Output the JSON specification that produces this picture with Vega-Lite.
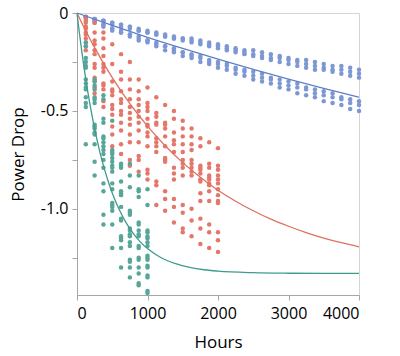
{
  "$schema": "https://vega.github.io/schema/vega-lite/v6.json",
  "width": 282,
  "height": 282,
  "autosize": "none",
  "padding": {"left": 77, "top": 13, "right": 41, "bottom": 61},
  "background": "white",
  "config": {
    "font": "Open Sans",
    "view": {"stroke": "#d4d4d4", "strokeWidth": 1},
    "axis": {"grid": false, "domainColor": "#a6a6a6", "tickColor": "#a6a6a6", "labelColor": "#000000", "titleColor": "#000000", "labelFontSize": 16, "titleFontSize": 17, "titleFontWeight": "normal", "tickSize": 5}
  },
  "datasets": {
    "pts": [
      {"h":125,"p":-0.02,"s":"B"},{"h":250,"p":-0.03,"s":"B"},{"h":375,"p":-0.04,"s":"B"},{"h":500,"p":-0.05,"s":"B"},{"h":625,"p":-0.06,"s":"B"},{"h":750,"p":-0.07,"s":"B"},{"h":875,"p":-0.08,"s":"B"},{"h":1000,"p":-0.09,"s":"B"},{"h":1125,"p":-0.10,"s":"B"},{"h":1250,"p":-0.11,"s":"B"},{"h":1375,"p":-0.12,"s":"B"},{"h":1500,"p":-0.13,"s":"B"},{"h":1625,"p":-0.13,"s":"B"},{"h":1750,"p":-0.14,"s":"B"},{"h":1875,"p":-0.15,"s":"B"},{"h":2000,"p":-0.16,"s":"B"},{"h":2125,"p":-0.17,"s":"B"},{"h":2250,"p":-0.18,"s":"B"},{"h":2375,"p":-0.19,"s":"B"},{"h":2500,"p":-0.19,"s":"B"},{"h":2625,"p":-0.20,"s":"B"},{"h":2750,"p":-0.21,"s":"B"},{"h":2875,"p":-0.22,"s":"B"},{"h":3000,"p":-0.23,"s":"B"},{"h":3125,"p":-0.24,"s":"B"},{"h":3250,"p":-0.24,"s":"B"},{"h":3375,"p":-0.25,"s":"B"},{"h":3500,"p":-0.26,"s":"B"},{"h":3625,"p":-0.27,"s":"B"},{"h":3750,"p":-0.27,"s":"B"},{"h":3875,"p":-0.28,"s":"B"},{"h":4000,"p":-0.29,"s":"B"},
      {"h":125,"p":-0.02,"s":"B"},{"h":250,"p":-0.03,"s":"B"},{"h":375,"p":-0.04,"s":"B"},{"h":500,"p":-0.05,"s":"B"},{"h":625,"p":-0.06,"s":"B"},{"h":750,"p":-0.07,"s":"B"},{"h":875,"p":-0.09,"s":"B"},{"h":1000,"p":-0.10,"s":"B"},{"h":1125,"p":-0.11,"s":"B"},{"h":1250,"p":-0.12,"s":"B"},{"h":1375,"p":-0.13,"s":"B"},{"h":1500,"p":-0.13,"s":"B"},{"h":1625,"p":-0.14,"s":"B"},{"h":1750,"p":-0.15,"s":"B"},{"h":1875,"p":-0.16,"s":"B"},{"h":2000,"p":-0.17,"s":"B"},{"h":2125,"p":-0.18,"s":"B"},{"h":2250,"p":-0.19,"s":"B"},{"h":2375,"p":-0.20,"s":"B"},{"h":2500,"p":-0.21,"s":"B"},{"h":2625,"p":-0.22,"s":"B"},{"h":2750,"p":-0.23,"s":"B"},{"h":2875,"p":-0.23,"s":"B"},{"h":3000,"p":-0.24,"s":"B"},{"h":3125,"p":-0.25,"s":"B"},{"h":3250,"p":-0.26,"s":"B"},{"h":3375,"p":-0.27,"s":"B"},{"h":3500,"p":-0.28,"s":"B"},{"h":3625,"p":-0.29,"s":"B"},{"h":3750,"p":-0.29,"s":"B"},{"h":3875,"p":-0.30,"s":"B"},{"h":4000,"p":-0.31,"s":"B"},
      {"h":125,"p":-0.02,"s":"B"},{"h":250,"p":-0.03,"s":"B"},{"h":375,"p":-0.04,"s":"B"},{"h":500,"p":-0.06,"s":"B"},{"h":625,"p":-0.07,"s":"B"},{"h":750,"p":-0.08,"s":"B"},{"h":875,"p":-0.09,"s":"B"},{"h":1000,"p":-0.10,"s":"B"},{"h":1125,"p":-0.11,"s":"B"},{"h":1250,"p":-0.12,"s":"B"},{"h":1375,"p":-0.13,"s":"B"},{"h":1500,"p":-0.14,"s":"B"},{"h":1625,"p":-0.15,"s":"B"},{"h":1750,"p":-0.16,"s":"B"},{"h":1875,"p":-0.17,"s":"B"},{"h":2000,"p":-0.18,"s":"B"},{"h":2125,"p":-0.19,"s":"B"},{"h":2250,"p":-0.20,"s":"B"},{"h":2375,"p":-0.21,"s":"B"},{"h":2500,"p":-0.22,"s":"B"},{"h":2625,"p":-0.23,"s":"B"},{"h":2750,"p":-0.24,"s":"B"},{"h":2875,"p":-0.25,"s":"B"},{"h":3000,"p":-0.26,"s":"B"},{"h":3125,"p":-0.27,"s":"B"},{"h":3250,"p":-0.28,"s":"B"},{"h":3375,"p":-0.29,"s":"B"},{"h":3500,"p":-0.29,"s":"B"},{"h":3625,"p":-0.30,"s":"B"},{"h":3750,"p":-0.31,"s":"B"},{"h":3875,"p":-0.32,"s":"B"},{"h":4000,"p":-0.33,"s":"B"},
      {"h":125,"p":-0.02,"s":"B"},{"h":250,"p":-0.04,"s":"B"},{"h":375,"p":-0.06,"s":"B"},{"h":500,"p":-0.08,"s":"B"},{"h":625,"p":-0.09,"s":"B"},{"h":750,"p":-0.11,"s":"B"},{"h":875,"p":-0.12,"s":"B"},{"h":1000,"p":-0.14,"s":"B"},{"h":1125,"p":-0.15,"s":"B"},{"h":1250,"p":-0.17,"s":"B"},{"h":1375,"p":-0.18,"s":"B"},{"h":1500,"p":-0.20,"s":"B"},{"h":1625,"p":-0.21,"s":"B"},{"h":1750,"p":-0.22,"s":"B"},{"h":1875,"p":-0.24,"s":"B"},{"h":2000,"p":-0.25,"s":"B"},{"h":2125,"p":-0.26,"s":"B"},{"h":2250,"p":-0.28,"s":"B"},{"h":2375,"p":-0.29,"s":"B"},{"h":2500,"p":-0.30,"s":"B"},{"h":2625,"p":-0.31,"s":"B"},{"h":2750,"p":-0.33,"s":"B"},{"h":2875,"p":-0.34,"s":"B"},{"h":3000,"p":-0.35,"s":"B"},{"h":3125,"p":-0.36,"s":"B"},{"h":3250,"p":-0.38,"s":"B"},{"h":3375,"p":-0.39,"s":"B"},{"h":3500,"p":-0.40,"s":"B"},{"h":3625,"p":-0.41,"s":"B"},{"h":3750,"p":-0.43,"s":"B"},{"h":3875,"p":-0.44,"s":"B"},{"h":4000,"p":-0.45,"s":"B"},
      {"h":125,"p":-0.02,"s":"B"},{"h":250,"p":-0.04,"s":"B"},{"h":375,"p":-0.06,"s":"B"},{"h":500,"p":-0.08,"s":"B"},{"h":625,"p":-0.10,"s":"B"},{"h":750,"p":-0.11,"s":"B"},{"h":875,"p":-0.13,"s":"B"},{"h":1000,"p":-0.14,"s":"B"},{"h":1125,"p":-0.16,"s":"B"},{"h":1250,"p":-0.17,"s":"B"},{"h":1375,"p":-0.19,"s":"B"},{"h":1500,"p":-0.20,"s":"B"},{"h":1625,"p":-0.22,"s":"B"},{"h":1750,"p":-0.23,"s":"B"},{"h":1875,"p":-0.25,"s":"B"},{"h":2000,"p":-0.26,"s":"B"},{"h":2125,"p":-0.27,"s":"B"},{"h":2250,"p":-0.29,"s":"B"},{"h":2375,"p":-0.30,"s":"B"},{"h":2500,"p":-0.32,"s":"B"},{"h":2625,"p":-0.33,"s":"B"},{"h":2750,"p":-0.34,"s":"B"},{"h":2875,"p":-0.36,"s":"B"},{"h":3000,"p":-0.37,"s":"B"},{"h":3125,"p":-0.38,"s":"B"},{"h":3250,"p":-0.39,"s":"B"},{"h":3375,"p":-0.41,"s":"B"},{"h":3500,"p":-0.42,"s":"B"},{"h":3625,"p":-0.43,"s":"B"},{"h":3750,"p":-0.44,"s":"B"},{"h":3875,"p":-0.46,"s":"B"},{"h":4000,"p":-0.47,"s":"B"},
      {"h":125,"p":-0.03,"s":"B"},{"h":250,"p":-0.05,"s":"B"},{"h":375,"p":-0.07,"s":"B"},{"h":500,"p":-0.09,"s":"B"},{"h":625,"p":-0.10,"s":"B"},{"h":750,"p":-0.12,"s":"B"},{"h":875,"p":-0.14,"s":"B"},{"h":1000,"p":-0.15,"s":"B"},{"h":1125,"p":-0.17,"s":"B"},{"h":1250,"p":-0.19,"s":"B"},{"h":1375,"p":-0.20,"s":"B"},{"h":1500,"p":-0.22,"s":"B"},{"h":1625,"p":-0.23,"s":"B"},{"h":1750,"p":-0.25,"s":"B"},{"h":1875,"p":-0.26,"s":"B"},{"h":2000,"p":-0.28,"s":"B"},{"h":2125,"p":-0.29,"s":"B"},{"h":2250,"p":-0.31,"s":"B"},{"h":2375,"p":-0.32,"s":"B"},{"h":2500,"p":-0.34,"s":"B"},{"h":2625,"p":-0.35,"s":"B"},{"h":2750,"p":-0.36,"s":"B"},{"h":2875,"p":-0.38,"s":"B"},{"h":3000,"p":-0.39,"s":"B"},{"h":3125,"p":-0.41,"s":"B"},{"h":3250,"p":-0.42,"s":"B"},{"h":3375,"p":-0.43,"s":"B"},{"h":3500,"p":-0.45,"s":"B"},{"h":3625,"p":-0.46,"s":"B"},{"h":3750,"p":-0.47,"s":"B"},{"h":3875,"p":-0.49,"s":"B"},{"h":4000,"p":-0.50,"s":"B"},

      {"h":125,"p":-0.02,"s":"R"},{"h":125,"p":-0.04,"s":"R"},{"h":125,"p":-0.05,"s":"R"},{"h":125,"p":-0.07,"s":"R"},{"h":125,"p":-0.08,"s":"R"},{"h":125,"p":-0.10,"s":"R"},{"h":125,"p":-0.11,"s":"R"},{"h":125,"p":-0.13,"s":"R"},{"h":125,"p":-0.15,"s":"R"},{"h":125,"p":-0.17,"s":"R"},{"h":125,"p":-0.19,"s":"R"},
      {"h":250,"p":-0.05,"s":"R"},{"h":250,"p":-0.10,"s":"R"},{"h":250,"p":-0.14,"s":"R"},{"h":250,"p":-0.16,"s":"R"},{"h":250,"p":-0.19,"s":"R"},{"h":250,"p":-0.21,"s":"R"},{"h":250,"p":-0.26,"s":"R"},{"h":250,"p":-0.28,"s":"R"},{"h":250,"p":-0.33,"s":"R"},{"h":250,"p":-0.35,"s":"R"},{"h":250,"p":-0.38,"s":"R"},{"h":250,"p":-0.41,"s":"R"},
      {"h":375,"p":-0.10,"s":"R"},{"h":375,"p":-0.13,"s":"R"},{"h":375,"p":-0.18,"s":"R"},{"h":375,"p":-0.22,"s":"R"},{"h":375,"p":-0.26,"s":"R"},{"h":375,"p":-0.28,"s":"R"},{"h":375,"p":-0.30,"s":"R"},{"h":375,"p":-0.36,"s":"R"},{"h":375,"p":-0.37,"s":"R"},{"h":375,"p":-0.39,"s":"R"},{"h":375,"p":-0.45,"s":"R"},{"h":375,"p":-0.48,"s":"R"},
      {"h":500,"p":-0.16,"s":"R"},{"h":500,"p":-0.26,"s":"R"},{"h":500,"p":-0.35,"s":"R"},{"h":500,"p":-0.39,"s":"R"},{"h":500,"p":-0.40,"s":"R"},{"h":500,"p":-0.42,"s":"R"},{"h":500,"p":-0.47,"s":"R"},{"h":500,"p":-0.49,"s":"R"},{"h":500,"p":-0.52,"s":"R"},{"h":500,"p":-0.58,"s":"R"},{"h":500,"p":-0.62,"s":"R"},{"h":500,"p":-0.68,"s":"R"},
      {"h":625,"p":-0.21,"s":"R"},{"h":625,"p":-0.30,"s":"R"},{"h":625,"p":-0.34,"s":"R"},{"h":625,"p":-0.40,"s":"R"},{"h":625,"p":-0.44,"s":"R"},{"h":625,"p":-0.46,"s":"R"},{"h":625,"p":-0.50,"s":"R"},{"h":625,"p":-0.52,"s":"R"},{"h":625,"p":-0.56,"s":"R"},{"h":625,"p":-0.60,"s":"R"},{"h":625,"p":-0.67,"s":"R"},{"h":625,"p":-0.72,"s":"R"},
      {"h":750,"p":-0.25,"s":"R"},{"h":750,"p":-0.34,"s":"R"},{"h":750,"p":-0.39,"s":"R"},{"h":750,"p":-0.44,"s":"R"},{"h":750,"p":-0.48,"s":"R"},{"h":750,"p":-0.51,"s":"R"},{"h":750,"p":-0.54,"s":"R"},{"h":750,"p":-0.57,"s":"R"},{"h":750,"p":-0.62,"s":"R"},{"h":750,"p":-0.66,"s":"R"},{"h":750,"p":-0.75,"s":"R"},{"h":750,"p":-0.78,"s":"R"},
      {"h":875,"p":-0.34,"s":"R"},{"h":875,"p":-0.40,"s":"R"},{"h":875,"p":-0.44,"s":"R"},{"h":875,"p":-0.47,"s":"R"},{"h":875,"p":-0.50,"s":"R"},{"h":875,"p":-0.53,"s":"R"},{"h":875,"p":-0.56,"s":"R"},{"h":875,"p":-0.60,"s":"R"},{"h":875,"p":-0.66,"s":"R"},{"h":875,"p":-0.73,"s":"R"},{"h":875,"p":-0.75,"s":"R"},{"h":875,"p":-0.81,"s":"R"},
      {"h":1000,"p":-0.38,"s":"R"},{"h":1000,"p":-0.46,"s":"R"},{"h":1000,"p":-0.48,"s":"R"},{"h":1000,"p":-0.50,"s":"R"},{"h":1000,"p":-0.54,"s":"R"},{"h":1000,"p":-0.57,"s":"R"},{"h":1000,"p":-0.58,"s":"R"},{"h":1000,"p":-0.61,"s":"R"},{"h":1000,"p":-0.63,"s":"R"},{"h":1000,"p":-0.68,"s":"R"},{"h":1000,"p":-0.80,"s":"R"},{"h":1000,"p":-0.82,"s":"R"},{"h":1000,"p":-0.85,"s":"R"},
      {"h":1125,"p":-0.43,"s":"R"},{"h":1125,"p":-0.51,"s":"R"},{"h":1125,"p":-0.53,"s":"R"},{"h":1125,"p":-0.56,"s":"R"},{"h":1125,"p":-0.57,"s":"R"},{"h":1125,"p":-0.64,"s":"R"},{"h":1125,"p":-0.66,"s":"R"},{"h":1125,"p":-0.68,"s":"R"},{"h":1125,"p":-0.71,"s":"R"},{"h":1125,"p":-0.86,"s":"R"},{"h":1125,"p":-0.88,"s":"R"},{"h":1125,"p":-0.98,"s":"R"},
      {"h":1250,"p":-0.47,"s":"R"},{"h":1250,"p":-0.56,"s":"R"},{"h":1250,"p":-0.57,"s":"R"},{"h":1250,"p":-0.59,"s":"R"},{"h":1250,"p":-0.63,"s":"R"},{"h":1250,"p":-0.68,"s":"R"},{"h":1250,"p":-0.74,"s":"R"},{"h":1250,"p":-0.75,"s":"R"},{"h":1250,"p":-0.76,"s":"R"},{"h":1250,"p":-0.91,"s":"R"},{"h":1250,"p":-0.95,"s":"R"},{"h":1250,"p":-1.01,"s":"R"},
      {"h":1375,"p":-0.50,"s":"R"},{"h":1375,"p":-0.54,"s":"R"},{"h":1375,"p":-0.61,"s":"R"},{"h":1375,"p":-0.65,"s":"R"},{"h":1375,"p":-0.67,"s":"R"},{"h":1375,"p":-0.71,"s":"R"},{"h":1375,"p":-0.79,"s":"R"},{"h":1375,"p":-0.82,"s":"R"},{"h":1375,"p":-0.85,"s":"R"},{"h":1375,"p":-0.95,"s":"R"},{"h":1375,"p":-0.99,"s":"R"},{"h":1375,"p":-1.07,"s":"R"},
      {"h":1500,"p":-0.55,"s":"R"},{"h":1500,"p":-0.59,"s":"R"},{"h":1500,"p":-0.63,"s":"R"},{"h":1500,"p":-0.67,"s":"R"},{"h":1500,"p":-0.71,"s":"R"},{"h":1500,"p":-0.75,"s":"R"},{"h":1500,"p":-0.77,"s":"R"},{"h":1500,"p":-0.79,"s":"R"},{"h":1500,"p":-0.83,"s":"R"},{"h":1500,"p":-0.98,"s":"R"},{"h":1500,"p":-1.02,"s":"R"},{"h":1500,"p":-1.10,"s":"R"},{"h":1500,"p":-1.12,"s":"R"},
      {"h":1625,"p":-0.59,"s":"R"},{"h":1625,"p":-0.63,"s":"R"},{"h":1625,"p":-0.67,"s":"R"},{"h":1625,"p":-0.70,"s":"R"},{"h":1625,"p":-0.75,"s":"R"},{"h":1625,"p":-0.77,"s":"R"},{"h":1625,"p":-0.79,"s":"R"},{"h":1625,"p":-0.81,"s":"R"},{"h":1625,"p":-0.83,"s":"R"},{"h":1625,"p":-1.00,"s":"R"},{"h":1625,"p":-1.06,"s":"R"},{"h":1625,"p":-1.14,"s":"R"},
      {"h":1750,"p":-0.64,"s":"R"},{"h":1750,"p":-0.68,"s":"R"},{"h":1750,"p":-0.78,"s":"R"},{"h":1750,"p":-0.79,"s":"R"},{"h":1750,"p":-0.80,"s":"R"},{"h":1750,"p":-0.82,"s":"R"},{"h":1750,"p":-0.85,"s":"R"},{"h":1750,"p":-0.86,"s":"R"},{"h":1750,"p":-0.92,"s":"R"},{"h":1750,"p":-0.96,"s":"R"},{"h":1750,"p":-1.05,"s":"R"},{"h":1750,"p":-1.10,"s":"R"},{"h":1750,"p":-1.18,"s":"R"},
      {"h":1875,"p":-0.66,"s":"R"},{"h":1875,"p":-0.77,"s":"R"},{"h":1875,"p":-0.79,"s":"R"},{"h":1875,"p":-0.83,"s":"R"},{"h":1875,"p":-0.84,"s":"R"},{"h":1875,"p":-0.85,"s":"R"},{"h":1875,"p":-0.87,"s":"R"},{"h":1875,"p":-0.88,"s":"R"},{"h":1875,"p":-0.91,"s":"R"},{"h":1875,"p":-0.96,"s":"R"},{"h":1875,"p":-1.08,"s":"R"},{"h":1875,"p":-1.12,"s":"R"},{"h":1875,"p":-1.20,"s":"R"},
      {"h":2000,"p":-0.69,"s":"R"},{"h":2000,"p":-0.78,"s":"R"},{"h":2000,"p":-0.80,"s":"R"},{"h":2000,"p":-0.83,"s":"R"},{"h":2000,"p":-0.85,"s":"R"},{"h":2000,"p":-0.87,"s":"R"},{"h":2000,"p":-0.90,"s":"R"},{"h":2000,"p":-0.93,"s":"R"},{"h":2000,"p":-0.96,"s":"R"},{"h":2000,"p":-0.97,"s":"R"},{"h":2000,"p":-1.12,"s":"R"},{"h":2000,"p":-1.16,"s":"R"},{"h":2000,"p":-1.22,"s":"R"},

      {"h":125,"p":-0.15,"s":"G"},{"h":125,"p":-0.17,"s":"G"},{"h":125,"p":-0.23,"s":"G"},{"h":125,"p":-0.25,"s":"G"},{"h":125,"p":-0.27,"s":"G"},{"h":125,"p":-0.28,"s":"G"},{"h":125,"p":-0.34,"s":"G"},{"h":125,"p":-0.36,"s":"G"},{"h":125,"p":-0.38,"s":"G"},{"h":125,"p":-0.39,"s":"G"},{"h":125,"p":-0.43,"s":"G"},{"h":125,"p":-0.46,"s":"G"},{"h":125,"p":-0.48,"s":"G"},{"h":125,"p":-0.67,"s":"G"},
      {"h":250,"p":-0.34,"s":"G"},{"h":250,"p":-0.35,"s":"G"},{"h":250,"p":-0.37,"s":"G"},{"h":250,"p":-0.39,"s":"G"},{"h":250,"p":-0.43,"s":"G"},{"h":250,"p":-0.44,"s":"G"},{"h":250,"p":-0.46,"s":"G"},{"h":250,"p":-0.57,"s":"G"},{"h":250,"p":-0.58,"s":"G"},{"h":250,"p":-0.59,"s":"G"},{"h":250,"p":-0.61,"s":"G"},{"h":250,"p":-0.62,"s":"G"},{"h":250,"p":-0.67,"s":"G"},{"h":250,"p":-0.76,"s":"G"},{"h":250,"p":-0.83,"s":"G"},
      {"h":375,"p":-0.42,"s":"G"},{"h":375,"p":-0.44,"s":"G"},{"h":375,"p":-0.54,"s":"G"},{"h":375,"p":-0.56,"s":"G"},{"h":375,"p":-0.63,"s":"G"},{"h":375,"p":-0.64,"s":"G"},{"h":375,"p":-0.66,"s":"G"},{"h":375,"p":-0.68,"s":"G"},{"h":375,"p":-0.70,"s":"G"},{"h":375,"p":-0.72,"s":"G"},{"h":375,"p":-0.75,"s":"G"},{"h":375,"p":-0.79,"s":"G"},{"h":375,"p":-0.87,"s":"G"},{"h":375,"p":-0.91,"s":"G"},{"h":375,"p":-1.03,"s":"G"},{"h":375,"p":-1.08,"s":"G"},
      {"h":500,"p":-0.55,"s":"G"},{"h":500,"p":-0.70,"s":"G"},{"h":500,"p":-0.71,"s":"G"},{"h":500,"p":-0.72,"s":"G"},{"h":500,"p":-0.74,"s":"G"},{"h":500,"p":-0.76,"s":"G"},{"h":500,"p":-0.78,"s":"G"},{"h":500,"p":-0.79,"s":"G"},{"h":500,"p":-0.81,"s":"G"},{"h":500,"p":-0.87,"s":"G"},{"h":500,"p":-0.90,"s":"G"},{"h":500,"p":-0.97,"s":"G"},{"h":500,"p":-0.98,"s":"G"},{"h":500,"p":-0.99,"s":"G"},{"h":500,"p":-1.01,"s":"G"},{"h":500,"p":-1.08,"s":"G"},{"h":500,"p":-1.20,"s":"G"},
      {"h":625,"p":-0.77,"s":"G"},{"h":625,"p":-0.78,"s":"G"},{"h":625,"p":-0.79,"s":"G"},{"h":625,"p":-0.86,"s":"G"},{"h":625,"p":-0.91,"s":"G"},{"h":625,"p":-0.92,"s":"G"},{"h":625,"p":-0.93,"s":"G"},{"h":625,"p":-0.99,"s":"G"},{"h":625,"p":-1.05,"s":"G"},{"h":625,"p":-1.06,"s":"G"},{"h":625,"p":-1.14,"s":"G"},{"h":625,"p":-1.15,"s":"G"},{"h":625,"p":-1.16,"s":"G"},{"h":625,"p":-1.20,"s":"G"},{"h":625,"p":-1.30,"s":"G"},
      {"h":750,"p":-0.77,"s":"G"},{"h":750,"p":-0.83,"s":"G"},{"h":750,"p":-0.89,"s":"G"},{"h":750,"p":-1.01,"s":"G"},{"h":750,"p":-1.02,"s":"G"},{"h":750,"p":-1.03,"s":"G"},{"h":750,"p":-1.10,"s":"G"},{"h":750,"p":-1.11,"s":"G"},{"h":750,"p":-1.13,"s":"G"},{"h":750,"p":-1.14,"s":"G"},{"h":750,"p":-1.17,"s":"G"},{"h":750,"p":-1.19,"s":"G"},{"h":750,"p":-1.26,"s":"G"},{"h":750,"p":-1.27,"s":"G"},{"h":750,"p":-1.30,"s":"G"},{"h":750,"p":-1.35,"s":"G"},
      {"h":875,"p":-0.83,"s":"G"},{"h":875,"p":-0.90,"s":"G"},{"h":875,"p":-0.91,"s":"G"},{"h":875,"p":-0.94,"s":"G"},{"h":875,"p":-1.07,"s":"G"},{"h":875,"p":-1.08,"s":"G"},{"h":875,"p":-1.11,"s":"G"},{"h":875,"p":-1.13,"s":"G"},{"h":875,"p":-1.14,"s":"G"},{"h":875,"p":-1.19,"s":"G"},{"h":875,"p":-1.20,"s":"G"},{"h":875,"p":-1.25,"s":"G"},{"h":875,"p":-1.26,"s":"G"},{"h":875,"p":-1.30,"s":"G"},{"h":875,"p":-1.33,"s":"G"},{"h":875,"p":-1.38,"s":"G"},{"h":875,"p":-1.39,"s":"G"},
      {"h":1000,"p":-0.90,"s":"G"},{"h":1000,"p":-0.98,"s":"G"},{"h":1000,"p":-1.11,"s":"G"},{"h":1000,"p":-1.12,"s":"G"},{"h":1000,"p":-1.14,"s":"G"},{"h":1000,"p":-1.15,"s":"G"},{"h":1000,"p":-1.17,"s":"G"},{"h":1000,"p":-1.19,"s":"G"},{"h":1000,"p":-1.24,"s":"G"},{"h":1000,"p":-1.25,"s":"G"},{"h":1000,"p":-1.26,"s":"G"},{"h":1000,"p":-1.29,"s":"G"},{"h":1000,"p":-1.30,"s":"G"},{"h":1000,"p":-1.34,"s":"G"},{"h":1000,"p":-1.35,"s":"G"},{"h":1000,"p":-1.42,"s":"G"},{"h":1000,"p":-1.43,"s":"G"}
    ],
    "fit": [
      {"h":0,"p":0,"s":"B"},{"h":500,"p":-0.063,"s":"B"},{"h":1000,"p":-0.124,"s":"B"},{"h":1500,"p":-0.181,"s":"B"},{"h":2000,"p":-0.236,"s":"B"},{"h":2500,"p":-0.288,"s":"B"},{"h":3000,"p":-0.338,"s":"B"},{"h":3500,"p":-0.385,"s":"B"},{"h":4000,"p":-0.43,"s":"B"},
      {"h":0,"p":0,"s":"R"},{"h":100,"p":-0.074,"s":"R"},{"h":250,"p":-0.177,"s":"R"},{"h":500,"p":-0.33,"s":"R"},{"h":750,"p":-0.463,"s":"R"},{"h":1000,"p":-0.578,"s":"R"},{"h":1250,"p":-0.678,"s":"R"},{"h":1500,"p":-0.764,"s":"R"},{"h":1750,"p":-0.839,"s":"R"},{"h":2000,"p":-0.905,"s":"R"},{"h":2250,"p":-0.961,"s":"R"},{"h":2500,"p":-1.01,"s":"R"},{"h":2750,"p":-1.053,"s":"R"},{"h":3000,"p":-1.089,"s":"R"},{"h":3250,"p":-1.121,"s":"R"},{"h":3500,"p":-1.149,"s":"R"},{"h":3750,"p":-1.173,"s":"R"},{"h":4000,"p":-1.194,"s":"R"},
      {"h":0,"p":0,"s":"G"},{"h":25,"p":-0.076,"s":"G"},{"h":50,"p":-0.147,"s":"G"},{"h":75,"p":-0.215,"s":"G"},{"h":100,"p":-0.279,"s":"G"},{"h":150,"p":-0.395,"s":"G"},{"h":200,"p":-0.499,"s":"G"},{"h":250,"p":-0.591,"s":"G"},{"h":300,"p":-0.673,"s":"G"},{"h":350,"p":-0.746,"s":"G"},{"h":400,"p":-0.81,"s":"G"},{"h":450,"p":-0.868,"s":"G"},{"h":500,"p":-0.919,"s":"G"},{"h":600,"p":-1.005,"s":"G"},{"h":700,"p":-1.073,"s":"G"},{"h":800,"p":-1.127,"s":"G"},{"h":900,"p":-1.17,"s":"G"},{"h":1000,"p":-1.203,"s":"G"},{"h":1200,"p":-1.251,"s":"G"},{"h":1400,"p":-1.28,"s":"G"},{"h":1600,"p":-1.299,"s":"G"},{"h":1800,"p":-1.311,"s":"G"},{"h":2000,"p":-1.318,"s":"G"},{"h":2500,"p":-1.326,"s":"G"},{"h":3000,"p":-1.329,"s":"G"},{"h":3500,"p":-1.33,"s":"G"},{"h":4000,"p":-1.33,"s":"G"}
    ]
  },
  "layer": [
    {
      "data": {"name": "pts"},
      "mark": {"type": "circle", "size": 20, "opacity": 1},
      "encoding": {
        "x": {"field": "h", "type": "quantitative", "scale": {"domain": [0, 4000], "nice": false},
          "axis": {"title": "Hours", "values": [0,500,1000,1500,2000,2500,3000,3500,4000], "format": "d", "labelExpr": "datum.value % 1000 == 0 ? datum.label : ''", "labelPadding": 5, "titlePadding": 13}},
        "y": {"field": "p", "type": "quantitative", "scale": {"domain": [-1.44, 0], "nice": false, "zero": false},
          "axis": {"title": "Power Drop", "values": [0,-0.25,-0.5,-0.75,-1,-1.25], "labelExpr": "datum.value == 0 ? '0' : (abs(datum.value % 0.5) < 0.000001 ? '-' + format(-datum.value, '.1f') : '')", "labelPadding": 4, "titlePadding": 13}},
        "color": {"field": "s", "type": "nominal", "scale": {"domain": ["B","R","G"], "range": ["#7c97d4","#e5776a","#58a69a"]}, "legend": null}
      }
    },
    {
      "data": {"name": "fit"},
      "mark": {"type": "line", "strokeWidth": 1.3, "interpolate": "monotone"},
      "encoding": {
        "x": {"field": "h", "type": "quantitative"},
        "y": {"field": "p", "type": "quantitative"},
        "color": {"field": "s", "type": "nominal", "scale": {"domain": ["B","R","G"], "range": ["#5f80c6","#e0705f","#3e9c8e"]}, "legend": null}
      }
    }
  ],
  "resolve": {"scale": {"color": "independent"}}
}
